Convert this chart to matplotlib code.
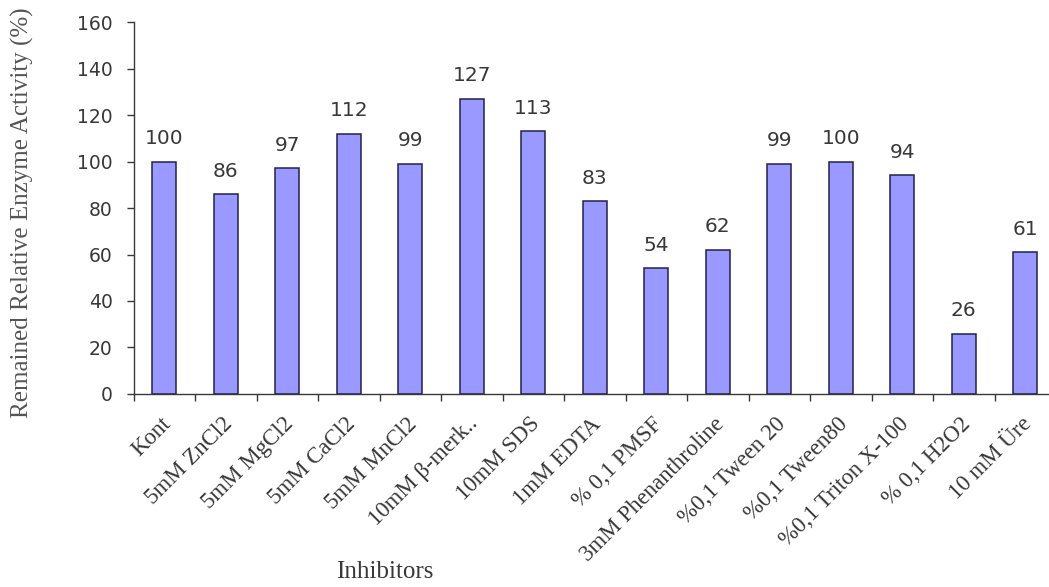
import numpy as np
import matplotlib.pyplot as plt
from matplotlib.transforms import ScaledTranslation

inhibitors = [
    "Kont", "5mM ZnCl2", "5mM MgCl2", "5mM CaCl2", "5mM MnCl2",
    "10mM \u03b2-merk..", "10mM SDS", "1mM EDTA", "% 0,1 PMSF",
    "3mM Phenanthroline", "%0,1 Tween 20", "%0,1 Tween80",
    "%0,1 Triton X-100", "% 0,1 H2O2", "10 mM \u00dcre",
]
activity = [100, 86, 97, 112, 99, 127, 113, 83, 54, 62, 99, 100, 94, 26, 61]

TEXT = "#383838"

fig = plt.figure(figsize=(10.49, 5.87), dpi=100)
# the category axis runs on slightly past the right border of the figure
ax = fig.add_axes([0.1273, 0.3288, 0.8794, 0.6337])

x = np.arange(len(inhibitors))
ax.bar(x, activity, width=0.39, color="#9999ff", edgecolor="#22224a", linewidth=1.1)

for xi, v in zip(x, activity):
    ax.text(xi, v + 7.5, str(v), ha="center", va="baseline",
            fontsize=14.5, family="DejaVu Sans", color=TEXT)

ax.set_xlim(-0.5, len(inhibitors) - 0.5)
ax.set_ylim(0, 160)
ax.set_yticks(range(0, 161, 20))
ax.tick_params(axis="y", labelsize=13.5, direction="out", length=5, width=1,
               pad=10, colors=TEXT)
for lab in ax.get_yticklabels():
    lab.set_family("DejaVu Sans")

# category names under the bars, tick marks between the categories
ax.set_xticks(x)
ax.set_xticklabels(inhibitors, rotation=45, ha="right", rotation_mode="anchor",
                   fontsize=16.5, family="Liberation Serif", color=TEXT)
ax.tick_params(axis="x", which="major", length=0, pad=14)
shift = ScaledTranslation(-4 / 100, 0, fig.dpi_scale_trans)
for lab in ax.get_xticklabels():
    lab.set_transform(lab.get_transform() + shift)
ax.set_xticks(np.arange(-0.5, len(inhibitors)), minor=True)
ax.tick_params(axis="x", which="minor", length=5, width=1, direction="out",
               colors=TEXT)

for side in ("top", "right"):
    ax.spines[side].set_visible(False)
for side in ("left", "bottom"):
    ax.spines[side].set_color(TEXT)
    ax.spines[side].set_linewidth(1.0)

fig.text(22 / 1049, 1 - 213 / 587, "Remained Relative Enzyme Activity (%)",
         rotation=90, ha="center", va="center", family="Liberation Serif",
         fontsize=18, color="#555555")
fig.text(385 / 1049, 1 - 572 / 587, "Inhibitors", ha="center", va="center",
         family="Liberation Serif", fontsize=18, color=TEXT)

fig.savefig("out.png", dpi=100)
